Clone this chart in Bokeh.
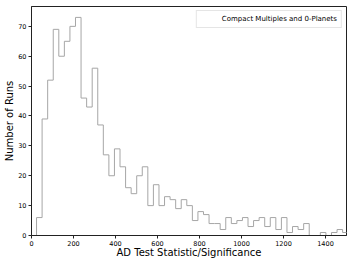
from bokeh.plotting import figure
from bokeh.models import Range1d, FixedTicker, ColumnDataSource, Legend, LegendItem
from bokeh.embed import file_html
from bokeh.resources import INLINE

# Histogram counts per bin
counts = [6, 39, 52, 69, 60, 65, 70, 73, 46, 43, 56, 37, 27, 20, 29, 23,
          16, 14, 20, 23, 10, 17, 10, 13, 12, 9, 12, 10, 5, 8, 7, 4,
          4, 2, 6, 4, 5, 6, 3, 5, 6, 3, 6, 2, 6, 1, 3, 2,
          4, 0, 0, 1, 0, 1, 2, 1]
bin_start = 24.0
bin_width = 26.5
x_ticks = [0, 200, 400, 600, 800, 1000, 1200, 1400]
y_ticks = [0, 10, 20, 30, 40, 50, 60, 70]
series_label = "Compact Multiples and 0-Planets"

edges = [bin_start + bin_width * i for i in range(len(counts) + 1)]
step_x = [edges[0]] + edges
step_y = [0] + counts + [0]

FONT = "DejaVu Sans"

p = figure(width=352, height=264, output_backend="svg", toolbar_location=None,
           x_range=Range1d(0, 1500), y_range=Range1d(0, 76.65),
           min_border_left=31, min_border_right=6, min_border_top=6,
           min_border_bottom=29)
p.background_fill_color = "white"
p.border_fill_color = "white"
p.outline_line_color = "#222222"
p.outline_line_width = 1
p.grid.visible = False

src = ColumnDataSource(dict(x=step_x, y=step_y))
p.step(x="x", y="y", source=src, mode="after", line_color="#a6a6a6", line_width=1)

# legend proxy (empty quad renders a hollow patch)
proxy = p.quad(left=[], right=[], top=[], bottom=[], fill_alpha=0,
               line_color="#a6a6a6", line_width=1)
legend = Legend(items=[LegendItem(label=series_label, renderers=[proxy])],
                location="top_right")
legend.label_text_font = FONT
legend.label_text_font_size = "7px"
legend.label_text_color = "black"
legend.label_height = 7
legend.label_standoff = 6
legend.glyph_width = 15
legend.glyph_height = 6
legend.padding = 4
legend.spacing = 0
legend.margin = 4
legend.border_line_color = "#cccccc"
legend.border_line_width = 1
legend.background_fill_alpha = 0.8
p.add_layout(legend)

for ax in (p.xaxis[0], p.yaxis[0]):
    ax.major_label_text_font = FONT
    ax.major_label_text_font_size = "6.5px"
    ax.major_label_text_color = "black"
    ax.axis_label_text_font = FONT
    ax.axis_label_text_font_size = "10px"
    ax.axis_label_text_font_style = "normal"
    ax.axis_label_text_color = "black"
    ax.major_tick_out = 3
    ax.major_tick_in = 0
    ax.minor_tick_line_color = None
    ax.axis_line_color = "#222222"
    ax.major_tick_line_color = "#222222"
    ax.major_label_standoff = 2

p.xaxis[0].ticker = FixedTicker(ticks=x_ticks)
p.yaxis[0].ticker = FixedTicker(ticks=y_ticks)
p.xaxis[0].axis_label = "AD Test Statistic/Significance"
p.yaxis[0].axis_label = "Number of Runs"
p.xaxis[0].axis_label_standoff = -2
p.yaxis[0].axis_label_standoff = 0

open("out.html", "w").write(file_html(p, INLINE))
